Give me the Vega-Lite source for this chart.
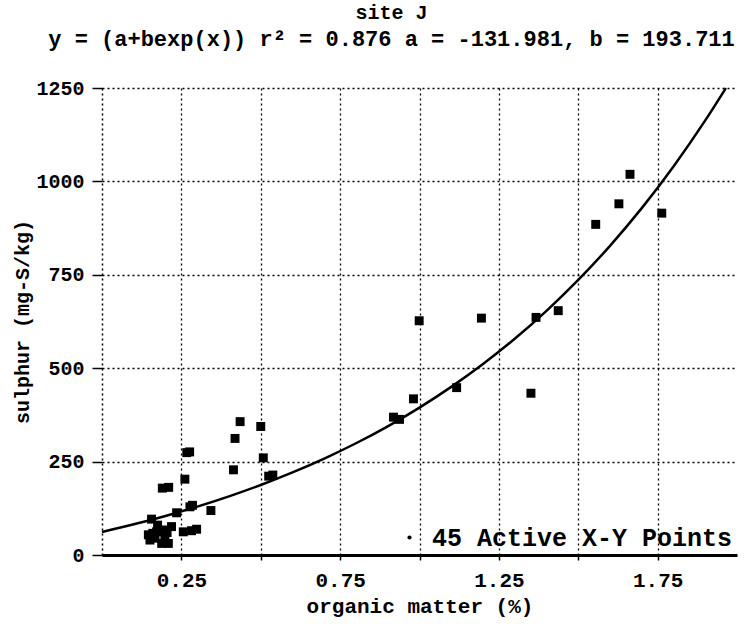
{
  "$schema": "https://vega.github.io/schema/vega-lite/v6.json",
  "width": 635,
  "height": 467,
  "autosize": "none",
  "padding": {"left": 102, "top": 88, "right": 13, "bottom": 69},
  "background": "white",
  "title": {
    "text": "site J",
    "subtitle": "y = (a+bexp(x))  r² = 0.876 a = -131.981, b = 193.711",
    "font": "Liberation Mono", "fontSize": 20, "fontWeight": "bold", "color": "black",
    "subtitleFont": "Liberation Mono", "subtitleFontSize": 22, "subtitleFontWeight": "bold", "subtitleColor": "black",
    "anchor": "middle", "dx": -28, "offset": 28, "subtitlePadding": 6
  },
  "datasets": {
    "curve": [
      {"x": 0.0, "y": 61.7}, {"x": 0.1, "y": 82.1}, {"x": 0.2, "y": 104.6}, {"x": 0.3, "y": 129.5},
      {"x": 0.4, "y": 157.0}, {"x": 0.5, "y": 187.4}, {"x": 0.6, "y": 221.0}, {"x": 0.7, "y": 258.1},
      {"x": 0.8, "y": 299.1}, {"x": 0.9, "y": 344.5}, {"x": 1.0, "y": 394.6}, {"x": 1.1, "y": 450.0},
      {"x": 1.2, "y": 511.2}, {"x": 1.3, "y": 578.8}, {"x": 1.4, "y": 653.6}, {"x": 1.5, "y": 736.2},
      {"x": 1.6, "y": 827.5}, {"x": 1.7, "y": 928.4}, {"x": 1.8, "y": 1039.9}, {"x": 1.9, "y": 1163.2},
      {"x": 1.965, "y": 1250.0}
    ],
    "points": [
      {"x": 1.663, "y": 1019, "label": "45 Active X-Y Points"},
      {"x": 1.628, "y": 940, "label": "45 Active X-Y Points"},
      {"x": 1.555, "y": 885, "label": "45 Active X-Y Points"},
      {"x": 1.763, "y": 915, "label": "45 Active X-Y Points"},
      {"x": 1.437, "y": 654, "label": "45 Active X-Y Points"},
      {"x": 1.367, "y": 636, "label": "45 Active X-Y Points"},
      {"x": 1.195, "y": 634, "label": "45 Active X-Y Points"},
      {"x": 0.999, "y": 627, "label": "45 Active X-Y Points"},
      {"x": 1.351, "y": 433, "label": "45 Active X-Y Points"},
      {"x": 1.117, "y": 448, "label": "45 Active X-Y Points"},
      {"x": 0.981, "y": 418, "label": "45 Active X-Y Points"},
      {"x": 0.918, "y": 369, "label": "45 Active X-Y Points"},
      {"x": 0.937, "y": 363, "label": "45 Active X-Y Points"},
      {"x": 0.435, "y": 357, "label": "45 Active X-Y Points"},
      {"x": 0.419, "y": 312, "label": "45 Active X-Y Points"},
      {"x": 0.5, "y": 344, "label": "45 Active X-Y Points"},
      {"x": 0.267, "y": 274, "label": "45 Active X-Y Points"},
      {"x": 0.276, "y": 276, "label": "45 Active X-Y Points"},
      {"x": 0.508, "y": 260, "label": "45 Active X-Y Points"},
      {"x": 0.414, "y": 228, "label": "45 Active X-Y Points"},
      {"x": 0.261, "y": 203, "label": "45 Active X-Y Points"},
      {"x": 0.525, "y": 211, "label": "45 Active X-Y Points"},
      {"x": 0.538, "y": 214, "label": "45 Active X-Y Points"},
      {"x": 0.19, "y": 179, "label": "45 Active X-Y Points"},
      {"x": 0.21, "y": 181, "label": "45 Active X-Y Points"},
      {"x": 0.277, "y": 129, "label": "45 Active X-Y Points"},
      {"x": 0.285, "y": 133, "label": "45 Active X-Y Points"},
      {"x": 0.235, "y": 113, "label": "45 Active X-Y Points"},
      {"x": 0.343, "y": 119, "label": "45 Active X-Y Points"},
      {"x": 0.156, "y": 96, "label": "45 Active X-Y Points"},
      {"x": 0.146, "y": 54, "label": "45 Active X-Y Points"},
      {"x": 0.151, "y": 40, "label": "45 Active X-Y Points"},
      {"x": 0.172, "y": 62, "label": "45 Active X-Y Points"},
      {"x": 0.167, "y": 45, "label": "45 Active X-Y Points"},
      {"x": 0.193, "y": 67, "label": "45 Active X-Y Points"},
      {"x": 0.198, "y": 49, "label": "45 Active X-Y Points"},
      {"x": 0.209, "y": 31, "label": "45 Active X-Y Points"},
      {"x": 0.188, "y": 31, "label": "45 Active X-Y Points"},
      {"x": 0.219, "y": 76, "label": "45 Active X-Y Points"},
      {"x": 0.256, "y": 62, "label": "45 Active X-Y Points"},
      {"x": 0.298, "y": 69, "label": "45 Active X-Y Points"},
      {"x": 0.282, "y": 65, "label": "45 Active X-Y Points"},
      {"x": 0.175, "y": 80, "label": "45 Active X-Y Points"},
      {"x": 0.205, "y": 60, "label": "45 Active X-Y Points"},
      {"x": 0.16, "y": 58, "label": "45 Active X-Y Points"}
    ]
  },
  "layer": [
    {
      "data": {"name": "curve"},
      "mark": {"type": "line", "color": "black", "strokeWidth": 2.5, "interpolate": "monotone"},
      "encoding": {
        "x": {"field": "x", "type": "quantitative", "scale": {"domain": [0, 2], "nice": false},
          "axis": {"values": [0.25, 0.5, 0.75, 1, 1.25, 1.5, 1.75],
            "labelExpr": "datum.value % 0.5 == 0 ? '' : format(datum.value, '.2f')",
            "title": "organic matter (%)"}},
        "y": {"field": "y", "type": "quantitative", "scale": {"domain": [0, 1250], "nice": false},
          "axis": {"values": [0, 250, 500, 750, 1000, 1250], "format": "d", "title": "sulphur (mg-S/kg)"}}
      }
    },
    {
      "data": {"name": "points"},
      "mark": {"type": "point", "shape": "square", "filled": true, "size": 80, "opacity": 1},
      "encoding": {
        "x": {"field": "x", "type": "quantitative", "scale": {"domain": [0, 2], "nice": false},
          "axis": {"values": [0.25, 0.5, 0.75, 1, 1.25, 1.5, 1.75],
            "labelExpr": "datum.value % 0.5 == 0 ? '' : format(datum.value, '.2f')",
            "title": "organic matter (%)"}},
        "y": {"field": "y", "type": "quantitative", "scale": {"domain": [0, 1250], "nice": false},
          "axis": {"values": [0, 250, 500, 750, 1000, 1250], "format": "d", "title": "sulphur (mg-S/kg)"}},
        "color": {"field": "label", "type": "nominal", "scale": {"range": ["black"]},
          "legend": {"orient": "bottom-right", "title": null, "offset": 4, "padding": 0,
            "labelFont": "Liberation Mono", "labelFontSize": 25, "labelFontWeight": "bold", "labelColor": "black",
            "labelLimit": 0,
            "symbolType": "circle", "symbolSize": 18, "symbolFillColor": "black", "symbolStrokeWidth": 0, "labelOffset": 10}}
      }
    },
    {
      "mark": {"type": "rule", "color": "black", "strokeWidth": 3},
      "encoding": {"y": {"datum": 1250, "type": "quantitative"}}
    },
    {
      "mark": {"type": "rule", "color": "black", "strokeWidth": 1.5},
      "encoding": {"x": {"datum": 2, "type": "quantitative"}}
    }
  ],
  "config": {
    "view": {"stroke": null},
    "axis": {
      "grid": true, "gridColor": "black", "gridDash": [2, 3], "gridWidth": 1.3, "gridOpacity": 1,
      "domainColor": "black", "tickColor": "black", "tickWidth": 1.5,
      "labelFont": "Liberation Mono", "labelFontWeight": "bold", "labelColor": "black",
      "titleFont": "Liberation Mono", "titleFontWeight": "bold", "titleColor": "black"
    },
    "axisX": {"domainWidth": 3, "tickSize": 5, "labelFontSize": 21, "titleFontSize": 21, "labelPadding": 9, "titlePadding": 5},
    "axisY": {"domainWidth": 1.5, "domainDash": [2, 3], "tickSize": 10, "labelFontSize": 20, "titleFontSize": 20, "labelPadding": 8, "titlePadding": 3}
  }
}
